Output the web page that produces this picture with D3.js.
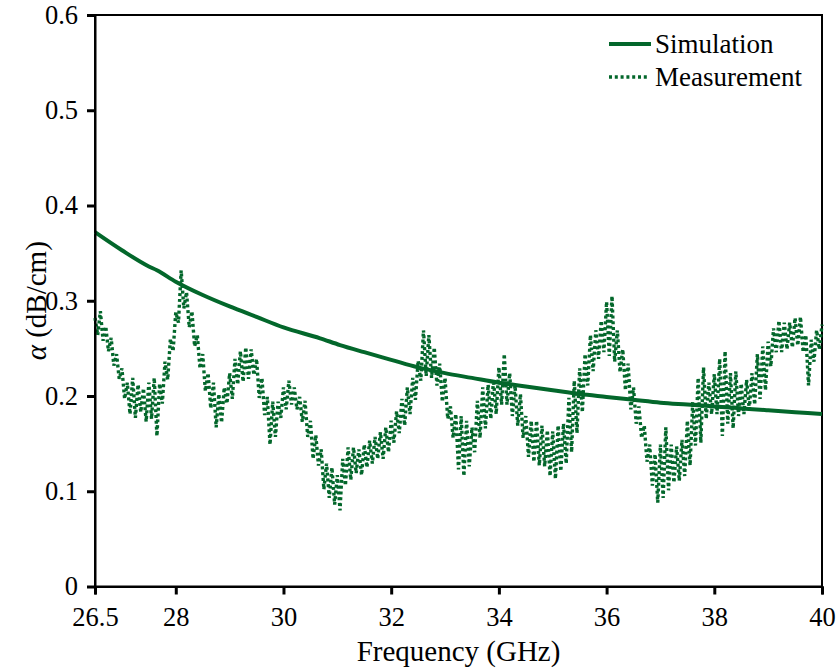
<!DOCTYPE html>
<html>
<head>
<meta charset="utf-8">
<script src="https://cdn.jsdelivr.net/npm/d3@7"></script>
<style>
  html, body { margin: 0; padding: 0; background: #fff; }
  svg text { font-family: "Liberation Serif", "Times New Roman", serif; fill: #000; }
</style>
</head>
<body>
<svg id="chart" width="837" height="670"></svg>
<script>
// ---- data ----
const xTicks = [26.5, 28, 30, 32, 34, 36, 38, 40];
const yTicks = [0, 0.1, 0.2, 0.3, 0.4, 0.5, 0.6];
const seriesNames = ["Simulation", "Measurement"];

const simFreq = [26.5, 27, 27.5, 27.65, 28, 28.5, 29, 29.5, 30, 30.68, 31.05, 31.5, 32, 32.5, 33, 33.5, 34, 34.5, 35, 35.5, 36, 36.5, 37, 37.5, 38, 38.5, 39, 39.5, 40];
const simAlpha = [0.372, 0.353, 0.336, 0.332, 0.320, 0.306, 0.294, 0.283, 0.272, 0.2606, 0.2535, 0.246, 0.238, 0.230, 0.224, 0.219, 0.214, 0.210, 0.206, 0.202, 0.199, 0.196, 0.193, 0.191, 0.189, 0.187, 0.185, 0.183, 0.181];

const measStart = 26.5;   // GHz
const measStep = 0.05;    // GHz
const measAlpha = [
  0.282, 0.264, 0.289, 0.258, 0.273, 0.247, 0.261, 0.232, 0.244, 0.218,
  0.229, 0.197, 0.214, 0.181, 0.219, 0.177, 0.212, 0.183, 0.208, 0.173,
  0.214, 0.176, 0.219, 0.158, 0.213, 0.192, 0.236, 0.217, 0.260, 0.247,
  0.288, 0.277, 0.332, 0.292, 0.309, 0.272, 0.289, 0.252, 0.264, 0.229,
  0.244, 0.205, 0.224, 0.187, 0.214, 0.167, 0.202, 0.172, 0.209, 0.192,
  0.224, 0.197, 0.239, 0.212, 0.247, 0.215, 0.251, 0.218, 0.249, 0.222,
  0.239, 0.198, 0.219, 0.180, 0.199, 0.149, 0.194, 0.157, 0.194, 0.177,
  0.209, 0.186, 0.216, 0.191, 0.209, 0.186, 0.199, 0.173, 0.195, 0.157,
  0.174, 0.134, 0.159, 0.127, 0.144, 0.102, 0.129, 0.093, 0.125, 0.086,
  0.117, 0.080, 0.134, 0.106, 0.146, 0.112, 0.146, 0.119, 0.144, 0.117,
  0.149, 0.125, 0.153, 0.129, 0.157, 0.134, 0.162, 0.134, 0.167, 0.141,
  0.174, 0.151, 0.184, 0.161, 0.197, 0.169, 0.209, 0.181, 0.219, 0.196,
  0.237, 0.216, 0.269, 0.221, 0.264, 0.219, 0.251, 0.211, 0.234, 0.194,
  0.219, 0.176, 0.189, 0.156, 0.181, 0.123, 0.179, 0.116, 0.174, 0.126,
  0.167, 0.141, 0.195, 0.156, 0.209, 0.166, 0.212, 0.176, 0.217, 0.181,
  0.230, 0.191, 0.244, 0.191, 0.224, 0.179, 0.211, 0.169, 0.202, 0.156,
  0.179, 0.136, 0.174, 0.131, 0.174, 0.127, 0.169, 0.126, 0.164, 0.116,
  0.163, 0.113, 0.169, 0.121, 0.171, 0.129, 0.198, 0.141, 0.216, 0.161,
  0.229, 0.183, 0.244, 0.211, 0.264, 0.226, 0.269, 0.239, 0.279, 0.246,
  0.299, 0.242, 0.305, 0.236, 0.269, 0.225, 0.249, 0.206, 0.234, 0.186,
  0.209, 0.171, 0.189, 0.156, 0.169, 0.131, 0.149, 0.106, 0.139, 0.088,
  0.149, 0.093, 0.167, 0.101, 0.149, 0.109, 0.147, 0.111, 0.154, 0.116,
  0.174, 0.127, 0.194, 0.148, 0.219, 0.151, 0.230, 0.176, 0.214, 0.181,
  0.223, 0.181, 0.239, 0.158, 0.247, 0.171, 0.224, 0.166, 0.226, 0.179,
  0.213, 0.181, 0.217, 0.186, 0.224, 0.191, 0.244, 0.197, 0.252, 0.206,
  0.257, 0.231, 0.271, 0.246, 0.279, 0.246, 0.277, 0.249, 0.277, 0.251,
  0.282, 0.253, 0.283, 0.246, 0.264, 0.211, 0.259, 0.236, 0.269, 0.249,
  0.275
];

// ---- layout ----
const green = "#03672b";
const W = 837, H = 670;
const margin = { left: 95, top: 15, right: W - 822, bottom: H - 586.5 };
const svg = d3.select("#chart");

const x = d3.scaleLinear().domain([26.5, 40]).range([margin.left, W - margin.right]);
const y = d3.scaleLinear().domain([0, 0.6]).range([H - margin.bottom, margin.top]);

// frame (top and right borders)
svg.append("rect")
  .attr("x", x(26.5)).attr("y", y(0.6))
  .attr("width", x(40) - x(26.5)).attr("height", y(0) - y(0.6))
  .attr("fill", "none").attr("stroke", "#000").attr("stroke-width", 2);

const simData = simFreq.map((f, i) => ({ f, a: simAlpha[i] }));
const measData = measAlpha.map((a, i) => ({ f: measStart + i * measStep, a }));

svg.append("path")
  .datum(measData)
  .attr("fill", "none")
  .attr("stroke", green)
  .attr("stroke-width", 3.4)
  .attr("stroke-dasharray", "3,2.8")
  .attr("d", d3.line().x(d => x(d.f)).y(d => y(d.a)));

svg.append("path")
  .datum(simData)
  .attr("fill", "none")
  .attr("stroke", green)
  .attr("stroke-width", 4)
  .attr("stroke-linejoin", "round")
  .attr("d", d3.line().curve(d3.curveMonotoneX).x(d => x(d.f)).y(d => y(d.a)));

// axes
const xAxis = svg.append("g")
  .attr("transform", `translate(0,${y(0)})`)
  .call(d3.axisBottom(x).tickValues(xTicks).tickSize(8).tickPadding(13)
    .tickFormat(d => d === 26.5 ? "26.5" : d3.format("d")(d)));
const yAxis = svg.append("g")
  .attr("transform", `translate(${x(26.5)},0)`)
  .call(d3.axisLeft(y).tickValues(yTicks).tickSize(8).tickPadding(9)
    .tickFormat(d => d === 0 ? "0" : d3.format(".1f")(d)));

[xAxis, yAxis].forEach(g => {
  g.select(".domain").attr("stroke", "#000").attr("stroke-width", 2);
  g.selectAll(".tick line").attr("stroke", "#000").attr("stroke-width", 3);
  g.selectAll(".tick text")
    .style("font-family", "'Liberation Serif', 'Times New Roman', serif")
    .style("font-size", "26.5px").attr("fill", "#000");
});

// axis titles
svg.append("text")
  .attr("x", (x(26.5) + x(40)) / 2).attr("y", 661)
  .attr("text-anchor", "middle")
  .style("font-size", "29px")
  .text("Frequency (GHz)");

const yt = svg.append("text")
  .attr("transform", `translate(46,${(y(0) + y(0.6)) / 2}) rotate(-90)`)
  .attr("text-anchor", "middle")
  .style("font-size", "29px");
yt.append("tspan").style("font-style", "italic").text("α");
yt.append("tspan").text(" (dB/cm)");

// legend
const legend = svg.append("g");
const legY = [44, 77];
seriesNames.forEach((name, i) => {
  legend.append("line")
    .attr("x1", 609).attr("x2", i === 0 ? 651 : 648)
    .attr("y1", legY[i]).attr("y2", legY[i])
    .attr("stroke", green)
    .attr("stroke-width", i === 0 ? 4 : 3.4)
    .attr("stroke-dasharray", i === 0 ? null : "3,2.8");
  legend.append("text")
    .attr("x", 655).attr("y", legY[i])
    .attr("dy", "0.35em")
    .style("font-size", "27px")
    .text(name);
});
</script>
</body>
</html>
